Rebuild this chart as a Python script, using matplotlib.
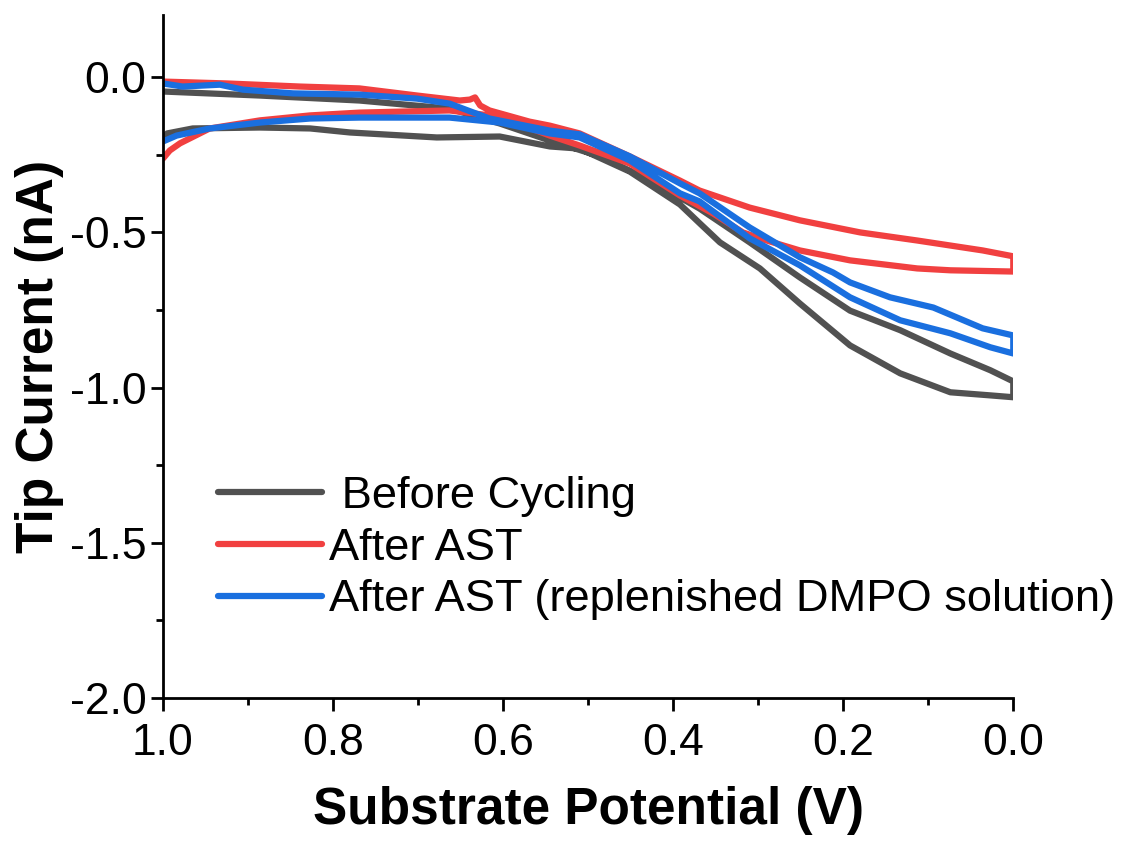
import matplotlib
matplotlib.use("Agg")
import matplotlib.pyplot as plt
from matplotlib.ticker import MultipleLocator, FormatStrFormatter

plt.rcParams['font.family'] = ['Liberation Sans', 'DejaVu Sans']
plt.rcParams['axes.unicode_minus'] = False

# Before Cycling: sweep 1.0 -> 0.0 then back
gray_fwd_x = [1.000, 0.886, 0.769, 0.663, 0.604, 0.545, 0.486, 0.427, 0.369, 0.310,
              0.251, 0.192, 0.133, 0.074, 0.027, 0.000]
gray_fwd_y = [-0.046, -0.059, -0.075, -0.101, -0.149, -0.204, -0.255, -0.333, -0.423, -0.532,
              -0.645, -0.752, -0.815, -0.890, -0.944, -0.980]
gray_rev_x = [0.000, 0.027, 0.074, 0.133, 0.192, 0.251, 0.298, 0.345, 0.369, 0.392,
              0.451, 0.510, 0.545, 0.604, 0.678, 0.780, 0.827, 0.886, 0.965, 0.995, 1.000]
gray_rev_y = [-1.031, -1.025, -1.015, -0.954, -0.864, -0.729, -0.616, -0.532, -0.470, -0.410,
              -0.304, -0.230, -0.223, -0.191, -0.194, -0.178, -0.165, -0.162, -0.165, -0.181, -0.201]

# After AST
red_fwd_x = [1.000, 0.925, 0.839, 0.769, 0.701, 0.651, 0.639, 0.633, 0.627, 0.616, 0.569,
             0.545, 0.510, 0.451, 0.392, 0.369, 0.310, 0.251, 0.180, 0.113, 0.036, 0.000]
red_fwd_y = [-0.014, -0.020, -0.030, -0.036, -0.059, -0.075, -0.072, -0.065, -0.091, -0.107, -0.143,
             -0.156, -0.181, -0.255, -0.333, -0.365, -0.420, -0.461, -0.500, -0.526, -0.558, -0.577]
red_rev_x = [0.000, 0.074, 0.113, 0.192, 0.251, 0.290, 0.318, 0.353, 0.392, 0.451, 0.510,
             0.545, 0.604, 0.663, 0.769, 0.827, 0.886, 0.945, 0.980, 0.992, 1.000]
red_rev_y = [-0.626, -0.622, -0.616, -0.590, -0.558, -0.526, -0.500, -0.439, -0.381, -0.278, -0.220,
             -0.188, -0.127, -0.107, -0.114, -0.123, -0.139, -0.165, -0.213, -0.236, -0.262]

# After AST (replenished DMPO solution)
blue_fwd_x = [1.000, 0.977, 0.933, 0.906, 0.847, 0.769, 0.701, 0.663, 0.616, 0.545, 0.510,
              0.451, 0.392, 0.369, 0.310, 0.251, 0.212, 0.192, 0.145, 0.094, 0.036, 0.000]
blue_fwd_y = [-0.020, -0.030, -0.024, -0.040, -0.052, -0.056, -0.069, -0.085, -0.133, -0.172, -0.184,
              -0.255, -0.342, -0.374, -0.484, -0.580, -0.629, -0.661, -0.709, -0.742, -0.809, -0.832]
blue_rev_x = [0.000, 0.027, 0.074, 0.133, 0.192, 0.251, 0.310, 0.369, 0.392, 0.451,
              0.510, 0.545, 0.604, 0.663, 0.769, 0.827, 0.886, 0.945, 0.984, 1.000]
blue_rev_y = [-0.890, -0.870, -0.825, -0.783, -0.709, -0.606, -0.519, -0.400, -0.374, -0.268,
              -0.194, -0.181, -0.146, -0.130, -0.130, -0.133, -0.146, -0.165, -0.188, -0.207]

labels = [' Before Cycling', 'After AST', 'After AST (replenished DMPO solution)']
colors = ['#515151', '#F14040', '#1A6FDF']

fig = plt.figure(figsize=(11.24, 8.42), dpi=100)
ax = fig.add_axes([0.145, 0.171, 0.7565, 0.811])

series = [(gray_fwd_x + gray_rev_x, gray_fwd_y + gray_rev_y),
          (red_fwd_x + red_rev_x, red_fwd_y + red_rev_y),
          (blue_fwd_x + blue_rev_x, blue_fwd_y + blue_rev_y)]
for (xs, ys), c, lab in zip(series, colors, labels):
    ax.plot(xs, ys, color=c, lw=4.5, label=lab, solid_joinstyle='round', solid_capstyle='round')

ax.set_xlim(1.0, 0.0)
ax.set_ylim(-2.0, 0.2)
ax.xaxis.set_major_locator(MultipleLocator(0.2))
ax.xaxis.set_minor_locator(MultipleLocator(0.1))
ax.yaxis.set_major_locator(MultipleLocator(0.5))
ax.yaxis.set_minor_locator(MultipleLocator(0.25))
ax.xaxis.set_major_formatter(FormatStrFormatter('%.1f'))
ax.yaxis.set_major_formatter(FormatStrFormatter('%.1f'))

# spines
ax.spines['right'].set_visible(False)
ax.spines['top'].set_visible(False)
ax.spines['left'].set_linewidth(2)
ax.spines['bottom'].set_linewidth(2)

ax.tick_params(which='major', direction='out', length=9, width=2, labelsize=32, pad=3)
ax.tick_params(which='minor', direction='out', length=5, width=2)
ax.tick_params(axis='x', which='major', pad=9)

ax.set_xlabel('Substrate Potential (V)', fontsize=37, fontweight='bold', labelpad=16)
ax.set_ylabel('Tip Current (nA)', fontsize=37, fontweight='bold', labelpad=4)

ax.legend(loc='upper left', bbox_to_anchor=(0.043, 0.352), frameon=False, fontsize=32.6,
          handlelength=2.3, handletextpad=0.15, labelspacing=0.24, borderaxespad=0)

fig.savefig('out.png', dpi=100)
